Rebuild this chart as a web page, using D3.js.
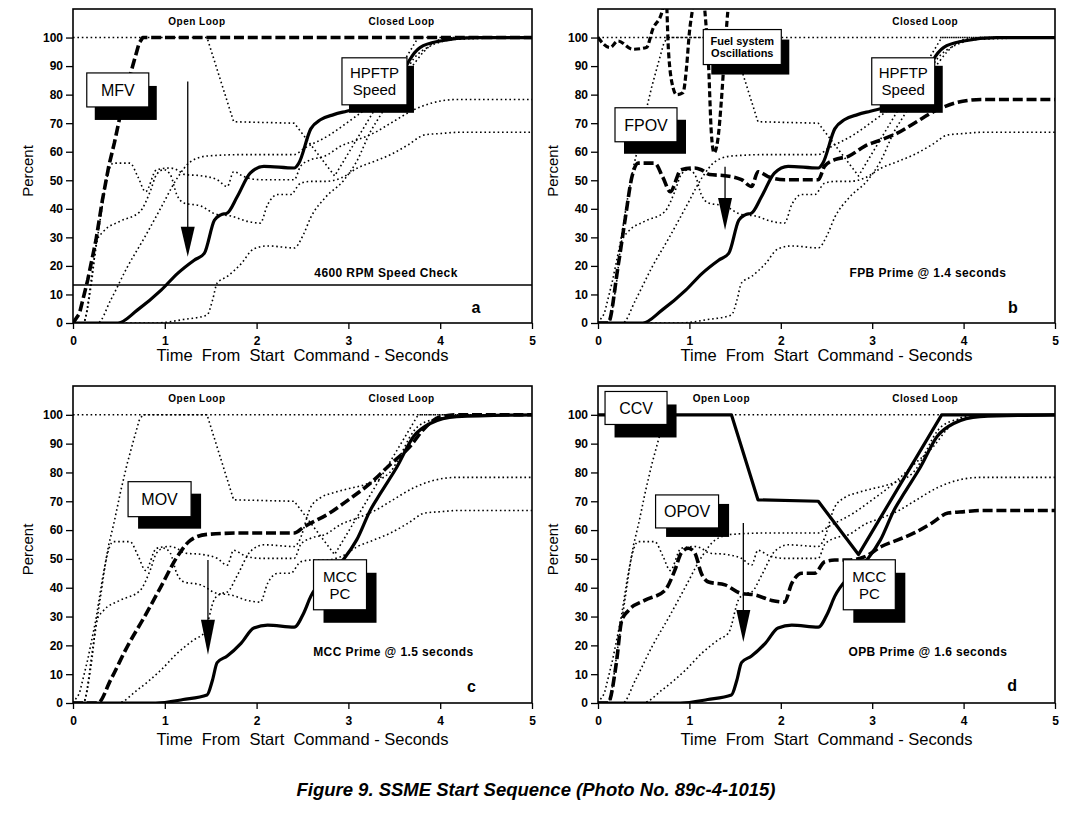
<!DOCTYPE html>
<html><head><meta charset="utf-8">
<script src="https://cdn.jsdelivr.net/npm/d3@7"></script>
<style>
body{margin:0;background:#fff}
svg{display:block}
text{font-family:"Liberation Sans",Arial,Helvetica,sans-serif;fill:#000}
</style>
</head><body>
<svg id="chart" width="1072" height="816"></svg>
<script>
// ---------- data (time in s, percent) ----------
const timeTicks = [0, 1, 2, 3, 4, 5];
const percentTicks = [0, 10, 20, 30, 40, 50, 60, 70, 80, 90, 100];

const MFV = [[0,0],[0.07,3.3],[0.16,15],[0.25,29],[0.32,43],[0.39,55],[0.45,63],[0.52,73.6],[0.59,83],[0.65,90],[0.72,98],[0.76,100],[5,100]];
const CCV = [[0,100],[1.46,100],[1.75,70.5],[2.41,70],[2.85,51.5],[3.76,100],[5,100]];
const MOV = [[0,0],[0.27,0],[0.41,8],[0.59,19.5],[0.78,30],[0.96,40.5],[1.14,51],[1.28,56.5],[1.46,58.5],[1.86,59],[2.41,59],[2.51,61],[2.8,66],[3.0,70.5],[3.24,76.3],[3.45,82.6],[3.67,89],[3.82,95],[4.0,99.3],[4.2,100],[5,100]];
const FPOV = [[0,0],[0.11,0],[0.22,20],[0.3,37],[0.37,51],[0.44,56],[0.62,56],[0.71,51],[0.79,46],[0.91,53.7],[1.06,54.3],[1.13,53.7],[1.22,52],[1.39,51.6],[1.57,50.2],[1.68,47.8],[1.75,53],[1.86,51.3],[2.04,50.2],[2.41,50.2],[2.48,55],[2.59,57.2],[2.74,58.4],[2.92,62],[3.1,64.2],[3.28,66.6],[3.46,70],[3.72,74.8],[3.9,77],[4.19,78.3],[5,78.3]];
const OPOV = [[0,0],[0.11,0],[0.2,13.7],[0.26,28.7],[0.33,32],[0.51,35.6],[0.73,39],[0.84,46],[0.91,52],[0.99,53.7],[1.06,52],[1.13,45],[1.21,42],[1.39,41],[1.57,38],[1.72,37.5],[1.9,35.6],[2.04,35],[2.12,41.5],[2.23,45],[2.37,45],[2.48,49],[2.59,49.6],[2.74,49.6],[2.92,50.8],[3.1,54.3],[3.28,56.6],[3.46,59],[3.65,62.4],[3.83,65.9],[4.01,66.4],[4.19,66.8],[5,66.8]];
const HPFTP = [[0,0],[0.49,0],[0.7,4.5],[0.96,11.5],[1.14,17.4],[1.32,22],[1.43,24.4],[1.54,36],[1.61,37.9],[1.68,38.5],[1.79,44.3],[1.93,52.5],[2.08,54.9],[2.41,54.3],[2.46,56],[2.59,68],[2.7,71.3],[2.84,73],[2.98,74.2],[3.2,76],[3.45,80],[3.6,88],[3.66,91.8],[3.78,96.5],[4.0,98.8],[4.36,100],[5,100]];
const MCCPC = [[0,0],[0.9,0],[1.2,1.2],[1.46,2.8],[1.52,8],[1.57,14],[1.68,16.3],[1.83,20.7],[1.97,26],[2.12,27],[2.41,26.3],[2.51,31],[2.59,37],[2.75,44],[2.95,50],[3.09,56.6],[3.24,67],[3.35,72.8],[3.53,82],[3.71,92.5],[3.89,97],[4.18,99.4],[5,100]];
const FUEL_OSC = [[0,100],[0.13,96.5],[0.22,98.8],[0.38,95.9],[0.53,96.5],[0.6,103],[0.7,109],[0.74,118],[0.77,96],[0.81,84],[0.86,80],[0.93,80.7],[0.97,90],[1.0,101.8],[1.03,109],[1.07,118],[1.14,118],[1.17,109],[1.21,90],[1.24,66.6],[1.27,59.6],[1.31,64],[1.35,78],[1.38,92],[1.42,109],[1.45,118]];

const seriesList = [
  {key:"MFV", data:MFV, linear:true}, {key:"CCV", data:CCV, linear:true}, {key:"MOV", data:MOV},
  {key:"FPOV", data:FPOV}, {key:"OPOV", data:OPOV}, {key:"HPFTP", data:HPFTP},
  {key:"MCCPC", data:MCCPC}, {key:"OSC", data:FUEL_OSC}
];

// ---------- styles & layout ----------
const styles = {
  dotted:{w:1.6, dash:"1.6,2.8"},
  dashed:{w:3.6, dash:"10,3.8"},
  solid:{w:3.2, dash:null},
  osc:{w:3.2, dash:"6,3"}
};

const panels = [
  {id:"a", x0:73, x1:532, top:9, bot:323, titleOff:38,
   bold:{MFV:"dashed", HPFTP:"solid"}, hide:["OSC"],
   loops:["Open Loop","Closed Loop"],
   note:{text:"4600 RPM Speed Check", t:3.41, p:17.5},
   hline:13.3,
   letter:{text:"a", t:4.39, p:5.3},
   arrow:{t:1.25, p0:84.6, p1:23.2, head:30},
   boxes:[{lines:["MFV"], t:0.15, p:87.6, w:62, h:34, dx:8, dy:13, fs:16},
          {lines:["HPFTP","Speed"], t:2.93, p:92.9, w:65, h:47, dx:7, dy:8, fs:15}]},
  {id:"b", x0:598, x1:1055, top:9, bot:323, titleOff:38,
   bold:{FPOV:"dashed", HPFTP:"solid", OSC:"osc"}, hide:[],
   loops:[null,"Closed Loop"],
   note:{text:"FPB Prime @ 1.4 seconds", t:3.61, p:17.5},
   letter:{text:"b", t:4.54, p:5.3},
   arrow:{t:1.39, p0:54.7, p1:32.6, head:32},
   boxes:[{lines:["Fuel system","Oscillations"], t:1.152, p:102.8, w:78, h:35, dx:8, dy:10, fs:11, bold:true},
          {lines:["FPOV"], t:0.186, p:75.4, w:62, h:34, dx:9, dy:12, fs:16},
          {lines:["HPFTP","Speed"], t:2.995, p:92.9, w:63, h:47, dx:8, dy:8, fs:15}]},
  {id:"c", x0:73, x1:532, top:386, bot:703, titleOff:42,
   bold:{MOV:"dashed", MCCPC:"solid"}, hide:["OSC"],
   loops:["Open Loop","Closed Loop"],
   note:{text:"MCC Prime @ 1.5 seconds", t:3.49, p:17.8},
   letter:{text:"c", t:4.34, p:5.7},
   arrow:{t:1.47, p0:49.6, p1:16.7, head:35},
   boxes:[{lines:["MOV"], t:0.60, p:76.8, w:63, h:35, dx:10, dy:12, fs:16},
          {lines:["MCC","PC"], t:2.62, p:49.7, w:53, h:50, dx:10, dy:13, fs:15}]},
  {id:"d", x0:598, x1:1055, top:386, bot:703, titleOff:42,
   bold:{CCV:"solid", OPOV:"dashed", MCCPC:"solid"}, hide:["OSC"],
   loops:["Open Loop","Closed Loop"],
   note:{text:"OPB Prime @ 1.6 seconds", t:3.61, p:17.8},
   letter:{text:"d", t:4.53, p:6.2},
   arrow:{t:1.59, p0:62.5, p1:21.2, head:32},
   boxes:[{lines:["CCV"], t:0.077, p:108.1, w:62, h:33, dx:9.5, dy:13, fs:16},
          {lines:["OPOV"], t:0.63, p:72.2, w:63, h:33, dx:10.5, dy:9, fs:16},
          {lines:["MCC","PC"], t:2.684, p:49.7, w:52, h:50, dx:10, dy:13, fs:15}]}
];

const svg = d3.select("#chart");
svg.append("rect").attr("width",1072).attr("height",816).attr("fill","#fff");

panels.forEach(P => {
  const x = d3.scaleLinear().domain([0,5]).range([P.x0, P.x1]);
  const y = d3.scaleLinear().domain([0,110]).range([P.bot, P.top]);
  const g = svg.append("g");

  const clipId = "clip-" + P.id;
  svg.append("clipPath").attr("id", clipId).append("rect")
    .attr("x", P.x0).attr("y", P.top).attr("width", P.x1-P.x0).attr("height", P.bot-P.top);

  // axes
  const ya = g.append("g").attr("transform", `translate(${P.x0},0)`)
    .call(d3.axisLeft(y).tickValues(percentTicks).tickSize(7).tickPadding(3).tickSizeOuter(0));
  const xa = g.append("g").attr("transform", `translate(0,${P.bot})`)
    .call(d3.axisBottom(x).tickValues(timeTicks).tickFormat(d3.format("d")).tickSize(6).tickPadding(7).tickSizeOuter(0));
  [ya, xa].forEach(a => {
    a.select(".domain").remove();
    a.selectAll("line").attr("stroke","#000").attr("stroke-width",1.3);
    a.selectAll("text").style("font-size","12px").style("font-weight","bold")
      .style("font-family",'"Liberation Sans",Arial,sans-serif');
  });

  // frame
  g.append("rect").attr("x",P.x0).attr("y",P.top).attr("width",P.x1-P.x0).attr("height",P.bot-P.top)
    .attr("fill","none").attr("stroke","#000").attr("stroke-width",1.6);

  // axis titles
  g.append("text").attr("transform",`translate(${P.x0-40},${(P.top+P.bot)/2+5}) rotate(-90)`)
    .attr("text-anchor","middle").style("font-size","15px").text("Percent");
  g.append("text").attr("x",(P.x0+P.x1)/2).attr("y",P.bot+P.titleOff).attr("text-anchor","middle")
    .style("font-size","16.5px").style("white-space","pre")
    .text("Time  From  Start  Command - Seconds");

  // lines
  const lineSmooth = d3.line().x(d => x(d[0])).y(d => y(d[1])).curve(d3.curveMonotoneX);
  const lineStraight = d3.line().x(d => x(d[0])).y(d => y(d[1]));
  const lg = g.append("g").attr("clip-path", `url(#${clipId})`);
  const visible = seriesList.filter(s => !P.hide.includes(s.key));
  const ordered = visible.filter(s => !P.bold[s.key]).concat(visible.filter(s => P.bold[s.key]));
  ordered.forEach(s => {
    const st = styles[P.bold[s.key] || "dotted"];
    lg.append("path").datum(s.data).attr("d", s.linear ? lineStraight : lineSmooth)
      .attr("fill","none").attr("stroke","#000").attr("stroke-width", st.w)
      .attr("stroke-dasharray", st.dash).attr("stroke-linejoin","round");
  });

  if (P.hline !== undefined) {
    g.append("line").attr("x1",P.x0).attr("x2",P.x1).attr("y1",y(P.hline)).attr("y2",y(P.hline))
      .attr("stroke","#000").attr("stroke-width",1.5);
  }

  // loop labels
  const loopT = [1.35, 3.58];
  P.loops.forEach((txt,i) => {
    if (!txt) return;
    g.append("text").attr("x", x(loopT[i])).attr("y", P.top+16).attr("text-anchor","middle")
      .style("font-size","10px").style("font-weight","bold").style("letter-spacing","0.5px").text(txt);
  });

  // note + letter
  g.append("text").attr("x",x(P.note.t)).attr("y",y(P.note.p)).attr("dy","0.35em")
    .attr("text-anchor","middle").style("font-size","12px").style("font-weight","bold")
    .style("letter-spacing","0.4px").text(P.note.text);
  g.append("text").attr("x",x(P.letter.t)).attr("y",y(P.letter.p)).attr("dy","0.35em")
    .attr("text-anchor","middle").style("font-size","16px").style("font-weight","bold").text(P.letter.text);

  // boxes
  P.boxes.forEach(b => {
    const bx = x(b.t), by = y(b.p);
    g.append("rect").attr("x",bx+b.dx).attr("y",by+b.dy).attr("width",b.w).attr("height",b.h).attr("fill","#000");
    g.append("rect").attr("x",bx).attr("y",by).attr("width",b.w).attr("height",b.h)
      .attr("fill","#fff").attr("stroke","#000").attr("stroke-width",1.2);
    const n = b.lines.length, lh = b.fs*1.15;
    b.lines.forEach((ln,i) => {
      g.append("text").attr("x",bx+b.w/2).attr("y",by+b.h/2+(i-(n-1)/2)*lh).attr("dy","0.36em")
        .attr("text-anchor","middle").style("font-size",b.fs+"px")
        .style("font-weight", b.bold ? "bold" : "normal").text(ln);
    });
  });

  // arrow
  const A = P.arrow, ax = x(A.t), ay0 = y(A.p0), ay1 = y(A.p1);
  g.append("line").attr("x1",ax).attr("x2",ax).attr("y1",ay0).attr("y2",ay1-A.head+2)
    .attr("stroke","#000").attr("stroke-width",1.3);
  g.append("path").attr("d",`M${ax-7},${ay1-A.head}L${ax+7},${ay1-A.head}L${ax},${ay1}Z`).attr("fill","#000");
});

svg.append("text").attr("x",536).attr("y",796).attr("text-anchor","middle")
  .style("font-size","18.5px").style("font-weight","bold").style("font-style","italic")
  .text("Figure 9. SSME Start Sequence (Photo No. 89c-4-1015)");
</script>
</body></html>
